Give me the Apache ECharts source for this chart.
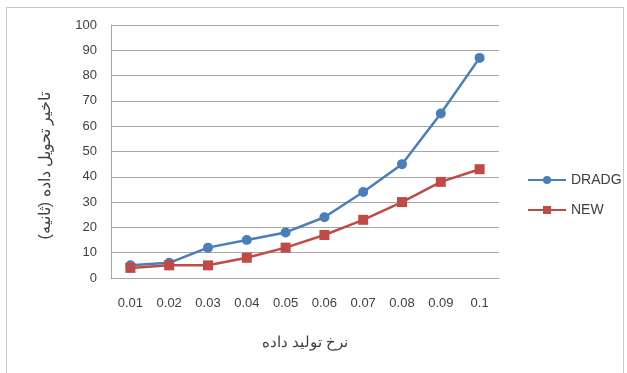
<!DOCTYPE html>
<html>
<head>
<meta charset="utf-8">
<script src="https://cdn.jsdelivr.net/npm/echarts@6/dist/echarts.min.js"></script>
<style>
  html, body { margin: 0; padding: 0; background: #fff; }
  #frame { position: absolute; left: 6px; top: 7px; width: 618px; height: 370px; border: 1px solid #c8c8c8; box-sizing: border-box; }
  #chart { width: 627px; height: 373px; }
</style>
</head>
<body>
<div id="frame"></div>
<div id="chart"></div>
<script>
// Data generation rate (x) versus delivery delay in seconds (y)
const categories = ['0.01', '0.02', '0.03', '0.04', '0.05', '0.06', '0.07', '0.08', '0.09', '0.1'];
const dradgValues = [5, 6, 12, 15, 18, 24, 34, 45, 65, 87];
const newValues = [4, 5, 5, 8, 12, 17, 23, 30, 38, 43];
const yTicks = { min: 0, max: 100, interval: 10 };

const chart = echarts.init(document.getElementById('chart'), null, { renderer: 'canvas' });
const font = '"Liberation Sans", Arial, sans-serif';

chart.setOption({
  animation: false,
  backgroundColor: 'transparent',
  grid: { left: 111, right: 128, top: 25, bottom: 95 },
  legend: {
    orient: 'vertical',
    left: 522,
    top: 168,
    itemGap: 16,
    itemWidth: 38,
    itemHeight: 10,
    textStyle: { fontFamily: font, fontSize: 14, color: '#404040' },
    data: ['DRADG', 'NEW']
  },
  xAxis: {
    type: 'category',
    data: categories,
    boundaryGap: true,
    name: 'نرخ تولید داده',
    nameLocation: 'middle',
    nameGap: 57,
    nameTextStyle: { fontFamily: font, fontSize: 15, color: '#404040' },
    axisLine: { lineStyle: { color: '#a6a6a6', width: 1 } },
    axisTick: { show: false },
    axisLabel: { fontFamily: font, fontSize: 13, color: '#404040', margin: 19 },
    splitLine: { show: false }
  },
  yAxis: {
    type: 'value',
    min: yTicks.min,
    max: yTicks.max,
    interval: yTicks.interval,
    name: 'تاخیر تحویل داده (ثانیه)',
    nameLocation: 'middle',
    nameGap: 57,
    nameRotate: 90,
    nameTextStyle: { fontFamily: font, fontSize: 16, color: '#404040', padding: [0, 28, 0, 0] },
    axisLine: { show: true, lineStyle: { color: '#a6a6a6', width: 1 } },
    axisTick: { show: false },
    axisLabel: { fontFamily: font, fontSize: 13, color: '#404040', margin: 14 },
    splitLine: { lineStyle: { color: '#a6a6a6', width: 1 } }
  },
  series: [
    {
      name: 'DRADG',
      type: 'line',
      data: dradgValues,
      symbol: 'circle',
      symbolSize: 10,
      lineStyle: { color: '#4a7ebb', width: 2.5 },
      itemStyle: { color: '#4a7ebb' }
    },
    {
      name: 'NEW',
      type: 'line',
      data: newValues,
      symbol: 'rect',
      symbolSize: 10,
      lineStyle: { color: '#be4b48', width: 2.5 },
      itemStyle: { color: '#be4b48' }
    }
  ]
});
</script>
</body>
</html>
